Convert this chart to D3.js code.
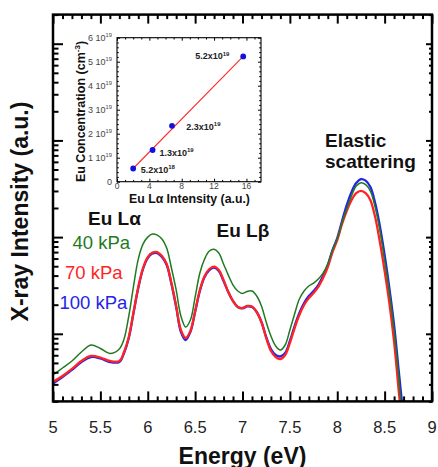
<!DOCTYPE html>
<html><head><meta charset="utf-8">
<script src="https://cdn.jsdelivr.net/npm/d3@7"></script>
<style>body{margin:0;background:#fff} svg{display:block} text{font-family:"Liberation Sans",Arial,sans-serif}</style>
</head><body><svg id="c" width="438" height="467"></svg>
<script>
// ---------- data ----------
const energy = [5.00,5.10,5.20,5.30,5.40,5.50,5.60,5.70,5.75,5.80,5.85,5.90,5.95,6.00,6.05,6.10,6.15,6.20,6.25,6.30,6.35,6.40,6.45,6.50,6.55,6.60,6.65,6.70,6.75,6.80,6.85,6.90,6.95,7.00,7.05,7.10,7.15,7.20,7.25,7.30,7.35,7.40,7.45,7.50,7.55,7.60,7.65,7.70,7.75,7.80,7.85,7.90,7.95,8.00,8.05,8.10,8.15,8.20,8.25,8.30,8.35,8.40,8.45,8.50,8.55,8.60,8.65,8.70];
const int40 = [0.375,0.443,0.524,0.649,0.766,0.705,0.626,0.697,0.884,1.528,3.12,5.93,8.47,10.0,10.75,10.5,9.55,7.71,4.79,2.84,1.528,1.176,1.389,2.40,4.25,5.93,7.18,7.47,6.84,5.27,4.05,3.19,2.77,2.61,2.74,2.77,2.46,1.94,1.324,0.949,0.748,0.680,0.766,1.095,1.602,2.29,2.77,3.12,3.35,3.69,4.25,5.27,7.35,9.55,13.97,19.5,26.6,33.7,36.5,34.9,29.9,20.4,11.8,5.79,2.70,1.095,0.349,0.085];
const int70 = [0.318,0.366,0.433,0.524,0.590,0.569,0.524,0.524,0.649,0.927,1.68,3.05,4.79,6.22,6.92,7.01,6.37,5.27,3.35,1.94,1.095,0.905,1.069,1.72,2.84,3.96,4.68,4.96,4.56,3.60,2.70,2.18,1.89,1.85,1.94,1.92,1.68,1.324,0.905,0.664,0.575,0.549,0.604,0.803,1.148,1.564,1.985,2.34,2.64,3.05,3.77,4.90,7.01,9.32,13.6,18.6,24.1,28.5,30.1,28.5,24.1,16.1,8.89,4.46,2.08,0.823,0.250,0.080];
const int100 = [0.306,0.358,0.423,0.511,0.575,0.556,0.511,0.511,0.633,0.905,1.64,2.97,4.68,6.07,6.76,6.84,6.22,5.14,3.27,1.89,1.044,0.863,1.044,1.68,2.77,3.86,4.56,4.84,4.46,3.51,2.70,2.18,1.89,1.83,1.92,1.89,1.68,1.324,0.927,0.697,0.604,0.583,0.633,0.843,1.204,1.64,2.08,2.46,2.77,3.19,3.96,5.14,7.35,9.77,14.6,21.4,29.2,36.2,39.8,38.4,32.9,22.5,13.0,6.53,2.97,1.233,0.403,0.135];
const seriesNames = ["40 kPa","70 kPa","100 kPa"];
const xMajorTicks = [5,5.5,6,6.5,7,7.5,8,8.5,9];
const xTickLabels = ["5","5.5","6","6.5","7","7.5","8","8.5","9"];
const yMajorTicks = [1,10,100,1000];

// inset
const insetIntensity = [2.0,4.4,6.8,15.6];
const insetConc = [0.55,1.32,2.33,5.22];       // x10^19 cm^-3
const insetPointMant = ["5.2","1.3","2.3","5.2"];
const insetPointExp = ["18","19","19","19"];
const fitX = [2.0,15.6];
const fitY = [0.55,5.22];
const insetXTicks = [0,4,8,12,16];
const insetYTicks = [0,1,2,3,4,5,6];

// ---------- drawing ----------
const svg = d3.select("#c");
const M = {l:53, r:432, t:14.6, b:401.4};
const x = d3.scaleLinear().domain([5,9]).range([M.l,M.r]);
const y = d3.scaleLog().domain([0.2,2000]).range([M.b,M.t]);

svg.append("clipPath").attr("id","clip").append("rect")
  .attr("x",M.l).attr("y",M.t).attr("width",M.r-M.l).attr("height",M.b-M.t);

const line = d3.line().x((d,i)=>x(energy[i])).y(d=>y(d)).curve(d3.curveCatmullRom.alpha(0.5));
const series = [
  {vals:int100, color:"#2424e8", w:2.3},
  {vals:int70, color:"#ff2424", w:2.3},
  {vals:int40, color:"#1f7a22", w:1.5}
];
const gl = svg.append("g").attr("clip-path","url(#clip)");
series.forEach(s=>{
  gl.append("path").attr("d",line(s.vals)).attr("fill","none")
    .attr("stroke",s.color).attr("stroke-width",s.w).attr("stroke-linejoin","round");
});

function ticks(axis, scale, vals, size, tx, ty, sw){
  const g = svg.append("g").attr("transform",`translate(${tx},${ty})`)
    .call(axis(scale).tickValues(vals).tickSize(size).tickFormat(""));
  g.select(".domain").remove();
  g.selectAll(".tick line").attr("stroke","#000").attr("stroke-width",sw);
}
const isMajX = v => Math.abs(v*2-Math.round(v*2))<1e-6;
const xMinor = x.ticks(40).filter(v=>!isMajX(v));
const yMinor = y.ticks().filter(v=>Math.abs(Math.log10(v)-Math.round(Math.log10(v)))>1e-6);

ticks(d3.axisBottom, x, xMajorTicks, -10, 0, M.b, 2);
ticks(d3.axisBottom, x, xMinor, -5, 0, M.b, 2);
ticks(d3.axisTop, x, xMajorTicks, -9, 0, M.t, 2);
ticks(d3.axisTop, x, xMinor, -4.5, 0, M.t, 2);
ticks(d3.axisLeft, y, yMajorTicks, -10, M.l, 0, 2);
ticks(d3.axisLeft, y, yMinor, -5.5, M.l, 0, 2);
ticks(d3.axisRight, y, yMajorTicks, -6, M.r, 0, 2);
ticks(d3.axisRight, y, yMinor, -3, M.r, 0, 2);

svg.append("rect").attr("x",M.l).attr("y",M.t).attr("width",M.r-M.l).attr("height",M.b-M.t)
  .attr("fill","none").attr("stroke","#000").attr("stroke-width",2.5);

svg.append("g").selectAll("text").data(xMajorTicks).join("text")
  .attr("x",d=>x(d)).attr("y",432.5).attr("text-anchor","middle")
  .attr("font-size",16.5).attr("fill","#222").text((d,i)=>xTickLabels[i]);

svg.append("text").attr("x",(M.l+M.r)/2).attr("y",463.5).attr("text-anchor","middle")
  .attr("font-size",23).attr("font-weight","bold").attr("fill","#111").text("Energy (eV)");
svg.append("text").attr("transform","translate(28,211.5) rotate(-90)").attr("text-anchor","middle")
  .attr("font-size",23).attr("font-weight","bold").attr("fill","#111").text("X-ray Intensity (a.u.)");

// annotations
const ann = [
  {t:"Eu L\u03b1", x:88, y:225, c:"#111", b:true},
  {t:"Eu L\u03b2", x:216.5, y:236.5, c:"#111", b:true},
  {t:"Elastic", x:325, y:146.8, c:"#111", b:true},
  {t:"scattering", x:325, y:168, c:"#111", b:true},
  {t:seriesNames[0], x:72.5, y:249, c:"#1f7a22", b:false},
  {t:seriesNames[1], x:65, y:279, c:"#ff2424", b:false},
  {t:seriesNames[2], x:59.5, y:309, c:"#2424e8", b:false}
];
ann.forEach(a=>{
  svg.append("text").attr("x",a.x).attr("y",a.y).attr("font-size",a.b?19:18.5)
    .attr("font-weight",a.b?"bold":"normal").attr("fill",a.c).text(a.t);
});

// ---------- inset ----------
const I = {l:117, r:261, t:37.7, b:181.7};
const ix = d3.scaleLinear().domain([0,17.8]).range([I.l,I.r]);
const iy = d3.scaleLinear().domain([0,6]).range([I.b,I.t]);
svg.append("rect").attr("x",I.l).attr("y",I.t).attr("width",I.r-I.l).attr("height",I.b-I.t).attr("fill","#fff");
const ixMinor = d3.range(1,18).filter(v=>v%4!==0);
const iyMinor = d3.range(0,30).map(v=>v/5).filter(v=>Math.abs(v-Math.round(v))>1e-6);
ticks(d3.axisBottom, ix, insetXTicks, -3, 0, I.b, 1);
ticks(d3.axisBottom, ix, ixMinor, -1.8, 0, I.b, 1);
ticks(d3.axisTop, ix, insetXTicks, -3, 0, I.t, 1);
ticks(d3.axisTop, ix, ixMinor, -1.8, 0, I.t, 1);
ticks(d3.axisLeft, iy, insetYTicks, -3, I.l, 0, 1);
ticks(d3.axisLeft, iy, iyMinor, -1.8, I.l, 0, 1);
ticks(d3.axisRight, iy, insetYTicks, -3, I.r, 0, 1);
ticks(d3.axisRight, iy, iyMinor, -1.8, I.r, 0, 1);
svg.append("rect").attr("x",I.l).attr("y",I.t).attr("width",I.r-I.l).attr("height",I.b-I.t)
  .attr("fill","none").attr("stroke","#000").attr("stroke-width",1.1);

// inset tick labels
insetXTicks.forEach(v=>{
  svg.append("text").attr("x",ix(v)).attr("y",188.8).attr("text-anchor","middle")
    .attr("font-size",8.5).attr("fill","#444").text(v);
});
insetYTicks.forEach(v=>{
  const t = svg.append("text").attr("x",112).attr("y",iy(v)+3.2).attr("text-anchor","end")
    .attr("font-size",9).attr("fill","#444");
  if(v===0){ t.text("0"); }
  else {
    t.append("tspan").text(v+" 10");
    t.append("tspan").attr("font-size",5.8).attr("dy",-3.6).text("19");
  }
});

// fit line and points
svg.append("line").attr("x1",ix(fitX[0])).attr("y1",iy(fitY[0])).attr("x2",ix(fitX[1])).attr("y2",iy(fitY[1]))
  .attr("stroke","#ff2a2a").attr("stroke-width",1.1);
svg.append("g").selectAll("circle").data(insetIntensity).join("circle")
  .attr("cx",d=>ix(d)).attr("cy",(d,i)=>iy(insetConc[i])).attr("r",2.9).attr("fill","#1010e0");

const lblOff = [[7.5,4],[6.8,5.6],[14.3,4.3],[-48,3]];
insetIntensity.forEach((v,i)=>{
  const t = svg.append("text").attr("x",ix(v)+lblOff[i][0]).attr("y",iy(insetConc[i])+lblOff[i][1])
    .attr("font-size",9).attr("font-weight","bold").attr("fill","#222");
  t.append("tspan").text(insetPointMant[i]+"x10");
  t.append("tspan").attr("font-size",6).attr("dy",-3.6).text(insetPointExp[i]);
});

// inset axis titles
const yt = svg.append("text").attr("transform","translate(85,111.5) rotate(-90)").attr("text-anchor","middle")
  .attr("font-size",12.5).attr("font-weight","bold").attr("fill","#111");
yt.append("tspan").text("Eu Concentration (cm");
yt.append("tspan").attr("font-size",8).attr("dy",-5).text("-3");
yt.append("tspan").attr("dy",5).text(")");
svg.append("text").attr("x",189.5).attr("y",202.8).attr("text-anchor","middle")
  .attr("font-size",12.3).attr("font-weight","bold").attr("fill","#111").text("Eu L\u03b1 Intensity (a.u.)");
</script></body></html>
